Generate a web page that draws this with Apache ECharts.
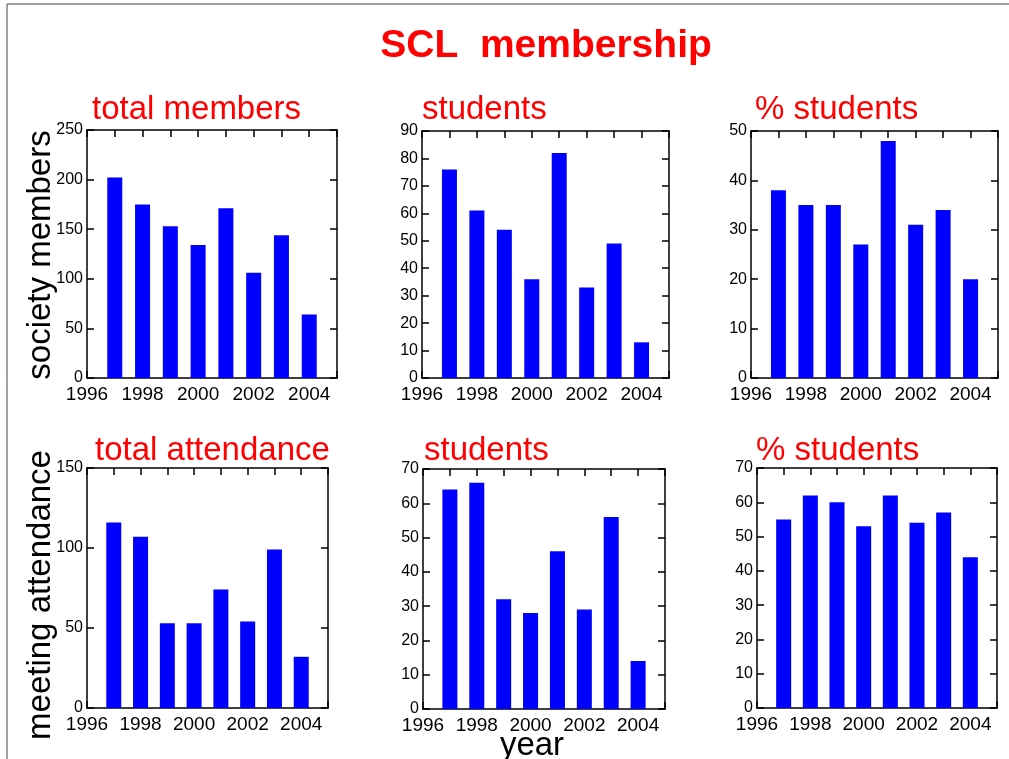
<!DOCTYPE html>
<html>
<head>
<meta charset="utf-8">
<title>SCL membership</title>
<script src="https://cdn.jsdelivr.net/npm/echarts@6/dist/echarts.min.js"></script>
<style>
  html, body { margin: 0; padding: 0; background: #fff; }
  #chart { width: 1009px; height: 759px; }
</style>
</head>
<body>
<div id="chart"></div>
<script>
// data
const years = [1997, 1998, 1999, 2000, 2001, 2002, 2003, 2004];
const xTickLabels = [1996, 1998, 2000, 2002, 2004];

const totalMembers = [202, 175, 153, 134, 171, 106, 144, 64];
const studentMembers = [76, 61, 54, 36, 82, 33, 49, 13];
const pctStudentMembers = [38, 35, 35, 27, 48, 31, 34, 20];

const totalAttendance = [116, 107, 53, 53, 74, 54, 99, 32];
const studentAttendance = [64, 66, 32, 28, 46, 29, 56, 14];
const pctStudentAttendance = [55, 62, 60, 53, 62, 54, 57, 44];

const panelTitles = ['total members', 'students', '% students',
                     'total attendance', 'students', '% students'];
const yMax = [250, 90, 50, 150, 70, 70];
const yStep = [50, 10, 10, 50, 10, 10];

const FONT = '"Liberation Sans", Arial, Helvetica, sans-serif';
const RED = '#ff0000';

let chart = echarts.init(document.getElementById('chart'));

let panels = [
    { vals: totalMembers,        grid: { left: 87,  top: 130, width: 250, height: 248 }, tx: 92,  ty: 110 },
    { vals: studentMembers,      grid: { left: 422, top: 131, width: 247, height: 247 }, tx: 422, ty: 110 },
    { vals: pctStudentMembers,   grid: { left: 751, top: 131, width: 247, height: 247 }, tx: 755, ty: 110 },
    { vals: totalAttendance,     grid: { left: 87,  top: 468, width: 241, height: 240 }, tx: 95,  ty: 451 },
    { vals: studentAttendance,   grid: { left: 423, top: 469, width: 242, height: 240 }, tx: 424, ty: 451 },
    { vals: pctStudentAttendance,grid: { left: 757, top: 468, width: 240, height: 240 }, tx: 756, ty: 451 }
];

let grids = [], xAxes = [], yAxes = [], series = [];
let graphics = [
    { type: 'line', shape: { x1: 7, y1: 4, x2: 1009, y2: 4 }, style: { stroke: '#444', lineWidth: 1 } },
    { type: 'line', shape: { x1: 7, y1: 4, x2: 7, y2: 759 }, style: { stroke: '#444', lineWidth: 1 } },
    { type: 'text', x: 546, y: 46, style: { text: 'SCL  membership', font: 'bold 39px ' + FONT,
        fill: RED, textAlign: 'center', textVerticalAlign: 'middle' } },
    { type: 'text', x: 41, y: 255, rotation: Math.PI / 2, style: { text: 'society members',
        font: '33px ' + FONT, fill: '#000', textAlign: 'center', textVerticalAlign: 'middle' } },
    { type: 'text', x: 41, y: 595, rotation: Math.PI / 2, style: { text: 'meeting attendance',
        font: '33px ' + FONT, fill: '#000', textAlign: 'center', textVerticalAlign: 'middle' } },
    { type: 'text', x: 532, y: 746, style: { text: 'year', font: '33px ' + FONT,
        fill: '#000', textAlign: 'center', textVerticalAlign: 'middle' } }
];

let axisLine = { show: true, onZero: false, lineStyle: { color: '#000', width: 1.5 } };
let tick = { show: true, inside: true, length: 7, lineStyle: { color: '#000', width: 1.5 } };

panels.forEach((p, i) => {
    grids.push(Object.assign({ containLabel: false }, p.grid));

    // bottom axis with labels, top axis only for ticks
    xAxes.push({
        type: 'value', gridIndex: i, position: 'bottom', min: 1996, max: 2005, interval: 1,
        axisLine: axisLine, axisTick: tick, splitLine: { show: false },
        axisLabel: {
            color: '#000', fontSize: 19, fontFamily: FONT, margin: 7,
            formatter: (v) => xTickLabels.indexOf(v) >= 0 ? String(v) : ''
        }
    });
    xAxes.push({
        type: 'value', gridIndex: i, position: 'top', min: 1996, max: 2005, interval: 1,
        axisLine: axisLine, axisTick: tick, splitLine: { show: false }, axisLabel: { show: false }
    });

    yAxes.push({
        type: 'value', gridIndex: i, position: 'left', min: 0, max: yMax[i], interval: yStep[i],
        axisLine: axisLine, axisTick: tick, splitLine: { show: false },
        axisLabel: { color: '#000', fontSize: 16, fontFamily: FONT, margin: 4 }
    });
    yAxes.push({
        type: 'value', gridIndex: i, position: 'right', min: 0, max: yMax[i], interval: yStep[i],
        axisLine: axisLine, axisTick: tick, splitLine: { show: false }, axisLabel: { show: false }
    });

    series.push({
        type: 'bar', xAxisIndex: i * 2, yAxisIndex: i * 2,
        barWidth: 15,
        itemStyle: { color: '#0000ff' },
        silent: true,
        data: years.map((y, k) => [y, p.vals[k]])
    });

    graphics.push({ type: 'text', x: p.tx, y: p.ty, style: { text: panelTitles[i],
        font: '33px ' + FONT, fill: RED, textAlign: 'left', textVerticalAlign: 'middle' } });
});

chart.setOption({
    animation: false,
    grid: grids,
    xAxis: xAxes,
    yAxis: yAxes,
    series: series,
    graphic: graphics
});
</script>
</body>
</html>
